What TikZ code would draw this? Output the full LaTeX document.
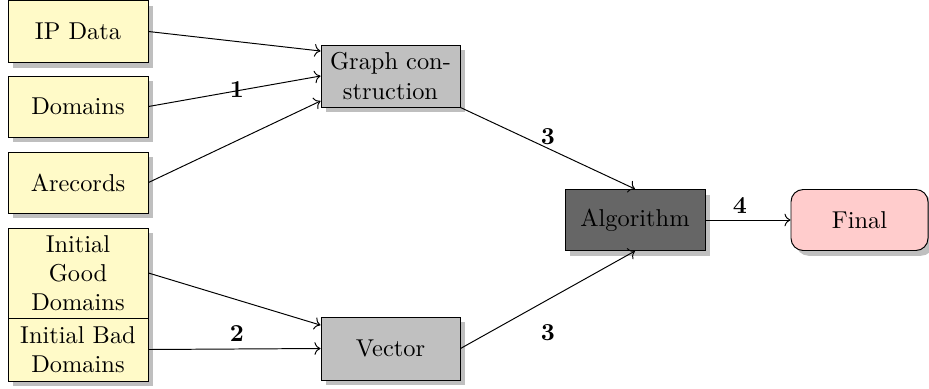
\documentclass[tikz,border=0pt]{standalone}
\usetikzlibrary{shadows,arrows.meta}
\newlength\pxu
\setlength\pxu{0.41pt}
\definecolor{inyellow}{RGB}{255,250,200}
\definecolor{midgray}{RGB}{192,192,192}
\definecolor{darkbox}{RGB}{102,102,102}
\definecolor{finalpink}{RGB}{255,204,204}
\tikzset{
  box/.style={draw=black, line width=0.4pt, align=center, inner sep=1pt,
    minimum width=140\pxu, drop shadow},
  inbox/.style={box, fill=inyellow},
  procbox/.style={box, fill=midgray, minimum width=139\pxu},
  algobox/.style={box, fill=darkbox},
  finalbox/.style={box, fill=finalpink, rounded corners=5pt, minimum width=137\pxu},
  conn/.style={->, line width=0.4pt},
  lbl/.style={font=\bfseries, inner sep=0pt}
}
\begin{document}
\begin{tikzpicture}[x=0.41pt, y=-0.41pt]
\useasboundingbox (0,0) rectangle (929,388);
\node[inbox, minimum height=62\pxu] (ip) at (78,31.5) {IP Data};
\node[inbox, minimum height=61\pxu] (dom) at (78,106.5) {Domains};
\node[inbox, minimum height=61\pxu] (arec) at (78,182.5) {Arecords};
\node[inbox, minimum height=90\pxu] (good) at (78,273) {Initial\\Good\\Domains};
\node[inbox, minimum height=63\pxu] (bad) at (78,349.5) {Initial Bad\\Domains};
\node[procbox, minimum height=62\pxu] (graph) at (390.5,76) {Graph con-\\struction};
\node[procbox, minimum height=63\pxu] (vector) at (390.5,348.5) {Vector};
\node[algobox, minimum height=61\pxu] (algo) at (635,220) {Algorithm};
\node[finalbox, minimum height=61\pxu] (final) at (859.5,220) {Final};

\draw[conn] (ip.east) -- ([yshift=10.25pt]graph.west);
\draw[conn] (dom.east) -- (graph.west);
\draw[conn] (arec.east) -- ([yshift=-10.25pt]graph.west);
\draw[conn] (good.east) -- ([yshift=9.6pt]vector.west);
\draw[conn] (bad.east) -- (vector.west);
\draw[conn] (graph.south east) -- (algo.north);
\draw[conn] (vector.east) -- (algo.south);
\draw[conn] (algo.east) -- (final.west);

\node[lbl] (l1) at (237,90) {1};
\node[lbl] (l2) at (237,333) {2};
\node[lbl] (l3a) at (548,137) {3};
\node[lbl] (l3b) at (548,333) {3};
\node[lbl] (l4) at (740,205) {4};
\end{tikzpicture}
\end{document}
